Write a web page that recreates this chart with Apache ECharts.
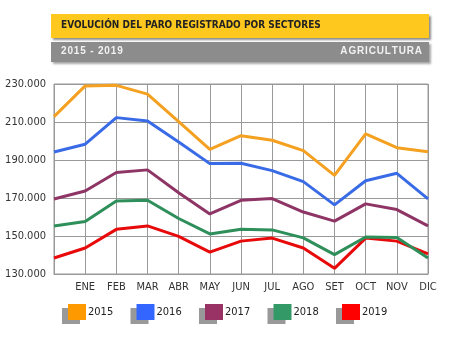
<!DOCTYPE html>
<html><head><meta charset="utf-8">
<script src="https://cdn.jsdelivr.net/npm/echarts@6/dist/echarts.min.js"></script>
<style>html,body{margin:0;padding:0;background:#fff}#c{width:450px;height:338px}</style>
</head><body><div id="c"></div>
<script>
const categories = ['', 'ENE', 'FEB', 'MAR', 'ABR', 'MAY', 'JUN', 'JUL', 'AGO', 'SET', 'OCT', 'NOV', 'DIC'];
const yTicks = [130000, 150000, 170000, 190000, 210000, 230000];
const s2015 = [212800, 229000, 229300, 224700, 210200, 195600, 202800, 200400, 194900, 181900, 203700, 196500, 194400];
const s2016 = [194200, 198300, 212300, 210500, 199500, 188100, 188300, 184400, 178600, 166400, 179100, 183000, 169500];
const s2017 = [169500, 173700, 183400, 184800, 172800, 161600, 168800, 169700, 162600, 157800, 166900, 163900, 155300];
const s2018 = [155300, 157600, 168400, 168800, 159200, 151100, 153600, 153200, 149000, 140200, 149500, 149200, 138400];
const s2019 = [138400, 143700, 153500, 155300, 149800, 141500, 147300, 148900, 143700, 133000, 148900, 147300, 140600];
const seriesNames = ['2015', '2016', '2017', '2018', '2019'];
const seriesData = [s2015, s2016, s2017, s2018, s2019];
const colors = ['#F4A020', '#3A6BE6', '#8E3566', '#2E8F5A', '#E80A0A'];
const legendColors = ['#FF9900', '#3366FF', '#993366', '#339966', '#FF0000'];

const chart = echarts.init(document.getElementById('c'), null, {renderer: 'canvas'});
const fmt = v => (v / 1000).toFixed(3);
const narrow = '"Liberation Sans Narrow", "DejaVu Sans Condensed", Arial, sans-serif';
const spaced = s => s.split('').join('\u200A');

const legends = seriesNames.map((n, i) => ({
  show: true,
  data: [{name: n, itemStyle: {color: legendColors[i], shadowColor: '#999', shadowOffsetX: -6, shadowOffsetY: 4, shadowBlur: 0}}],
  left: 68 + i * 68.5, top: 304,
  icon: 'rect', itemWidth: 18, itemHeight: 16, itemGap: 2,
  textStyle: {fontFamily: narrow, fontSize: 11, color: '#222', padding: [0, 0, 0, -3]},
  selectedMode: false, padding: 0
}));

chart.setOption({
  animation: false,
  legend: legends,
  grid: {left: 54, right: 22, top: 84, bottom: 64, show: true, borderColor: '#999', borderWidth: 1},
  xAxis: {
    type: 'category', data: categories, boundaryGap: false,
    axisLine: {show: true, lineStyle: {color: '#999'}},
    axisTick: {show: false},
    splitLine: {show: true, lineStyle: {color: '#999', width: 1}},
    axisLabel: {color: '#333', fontFamily: narrow, fontSize: 11, margin: 8, interval: 0}
  },
  yAxis: {
    type: 'value', min: yTicks[0], max: yTicks[yTicks.length - 1], interval: 20000,
    axisLine: {show: false}, axisTick: {show: false},
    splitLine: {lineStyle: {color: '#999', width: 1}},
    axisLabel: {color: '#333', fontFamily: narrow, fontSize: 11, margin: 8, formatter: fmt}
  },
  series: seriesNames.map((n, i) => ({
    name: n, type: 'line', data: seriesData[i], showSymbol: false, symbol: 'none',
    lineStyle: {color: colors[i], width: 3}, itemStyle: {color: legendColors[i]}, z: 10 - i
  })),
  graphic: [
    {type: 'rect', shape: {x: 51, y: 14, width: 378, height: 24}, style: {fill: '#FFC81E', shadowColor: 'rgba(0,0,0,0.45)', shadowBlur: 2, shadowOffsetX: 2, shadowOffsetY: 2}},
    {type: 'text', left: 61, top: 20, style: {text: 'EVOLUCIÓN DEL PARO REGISTRADO POR SECTORES', fill: '#222', font: 'bold 10px ' + narrow}},
    {type: 'rect', shape: {x: 51, y: 42, width: 378, height: 20}, style: {fill: '#8C8C8C', shadowColor: 'rgba(0,0,0,0.35)', shadowBlur: 2, shadowOffsetX: 2, shadowOffsetY: 2}},
    {type: 'text', left: 61, top: 46, style: {text: spaced('2015 - 2019'), fill: '#F2F2F2', font: 'bold 10px "Liberation Sans", Arial, sans-serif'}},
    {type: 'text', right: 28, top: 46, style: {text: spaced('AGRICULTURA'), fill: '#F2F2F2', font: 'bold 10px "Liberation Sans", Arial, sans-serif'}}
  ]
});
</script>
</body></html>
